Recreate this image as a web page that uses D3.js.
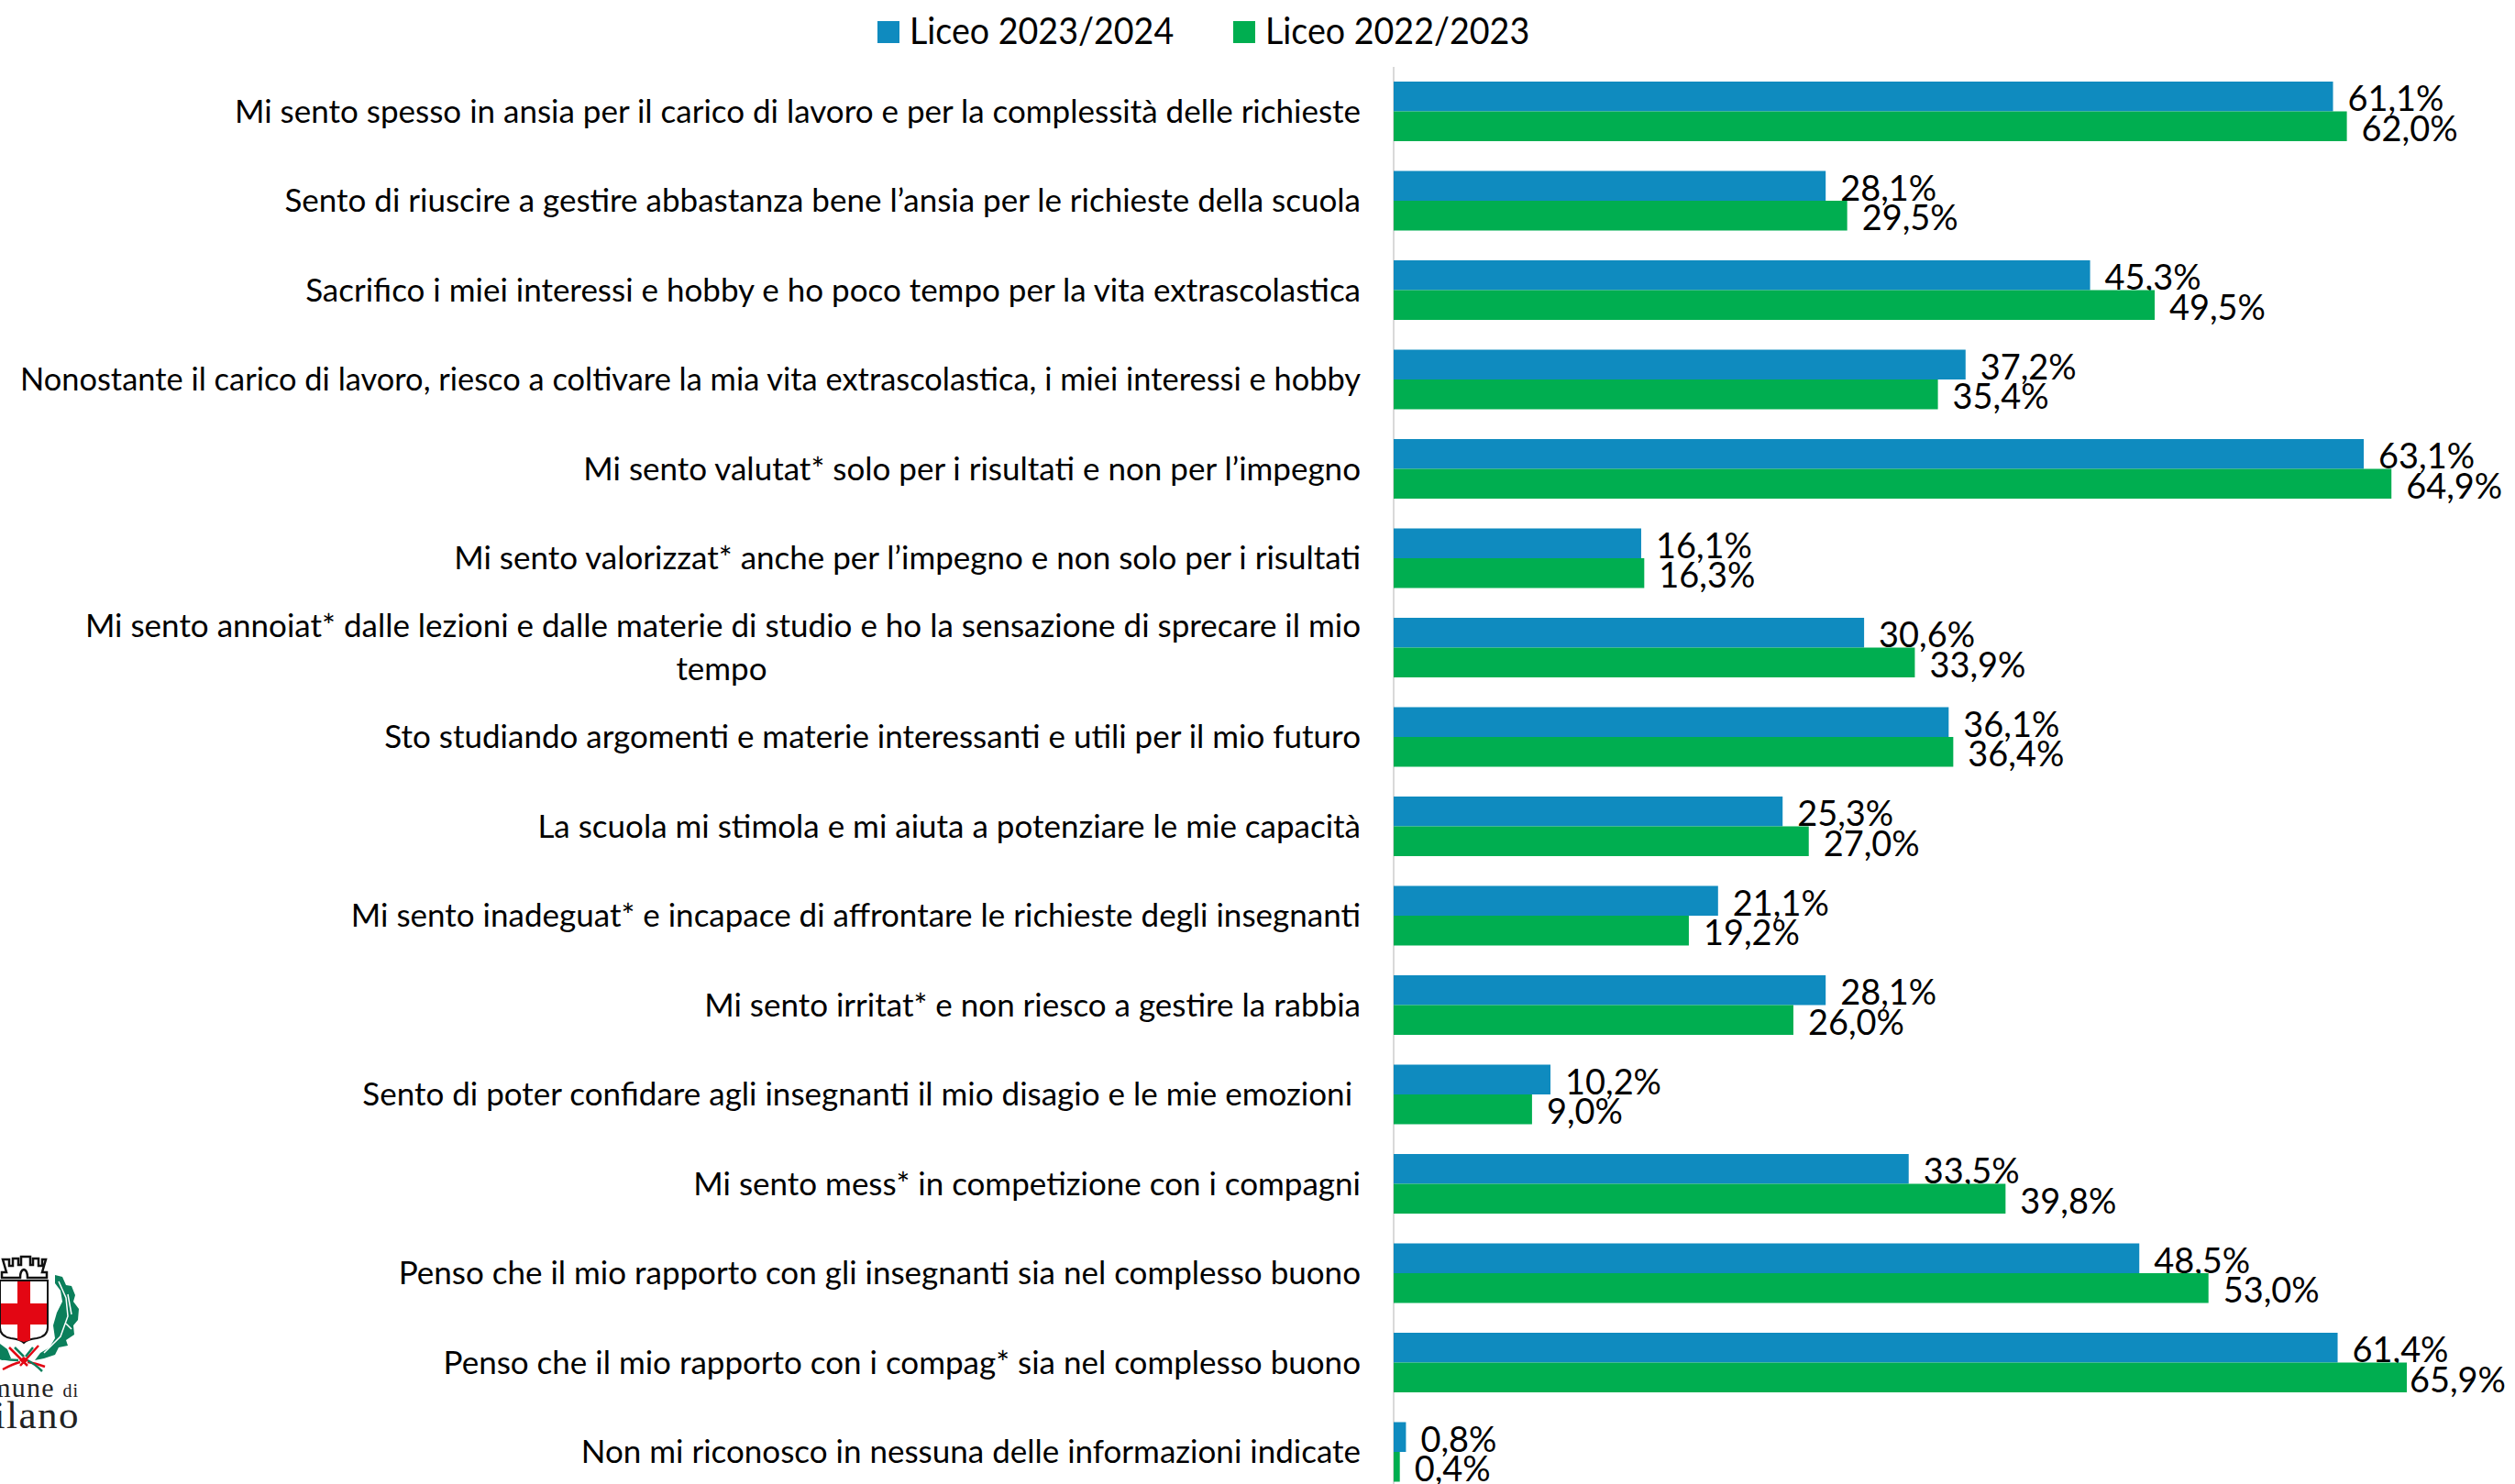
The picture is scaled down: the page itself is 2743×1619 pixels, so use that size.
<!DOCTYPE html>
<html><head><meta charset="utf-8">
<script src="https://cdn.jsdelivr.net/npm/d3@7/dist/d3.min.js"></script>
<style>html,body{margin:0;padding:0;background:#fff;overflow:hidden}svg{display:block}text{white-space:pre}</style>
</head><body><svg id="c" width="2743" height="1619"></svg>
<script>
const categories=[
["Mi sento spesso in ansia per il carico di lavoro e per la complessità delle richieste"],
["Sento di riuscire a gestire abbastanza bene l’ansia per le richieste della scuola"],
["Sacrifico i miei interessi e hobby e ho poco tempo per la vita extrascolastica"],
["Nonostante il carico di lavoro, riesco a coltivare la mia vita extrascolastica, i miei interessi e hobby"],
["Mi sento valutat* solo per i risultati e non per l’impegno"],
["Mi sento valorizzat* anche per l’impegno e non solo per i risultati"],
["Mi sento annoiat* dalle lezioni e dalle materie di studio e ho la sensazione di sprecare il mio","tempo"],
["Sto studiando argomenti e materie interessanti e utili per il mio futuro"],
["La scuola mi stimola e mi aiuta a potenziare le mie capacità"],
["Mi sento inadeguat* e incapace di affrontare le richieste degli insegnanti"],
["Mi sento irritat* e non riesco a gestire la rabbia"],
["Sento di poter confidare agli insegnanti il mio disagio e le mie emozioni "],
["Mi sento mess* in competizione con i compagni"],
["Penso che il mio rapporto con gli insegnanti sia nel complesso buono"],
["Penso che il mio rapporto con i compag* sia nel complesso buono"],
["Non mi riconosco in nessuna delle informazioni indicate"]];
const liceo2324=[61.1,28.1,45.3,37.2,63.1,16.1,30.6,36.1,25.3,21.1,28.1,10.2,33.5,48.5,61.4,0.8];
const liceo2223=[62.0,29.5,49.5,35.4,64.9,16.3,33.9,36.4,27.0,19.2,26.0,9.0,39.8,53.0,65.9,0.4];
const seriesNames=["Liceo 2023/2024","Liceo 2022/2023"];
const colors=["#0F8BBF","#00AE50"];

const svg=d3.select("#c");
const font="Lato, Carlito, sans-serif";
const x=d3.scaleLinear().domain([0,65.9]).range([1520,2625]);
const step=97.5, barH=32.5;
const y=d3.scaleLinear().domain([0,categories.length]).range([89,89+step*categories.length]);
const fmt=v=>v.toFixed(1).replace(".",",")+"%";
function condense(sel,k){
  sel.each(function(){
    const w=this.getComputedTextLength();
    d3.select(this).attr("textLength",w*k).attr("lengthAdjust","spacingAndGlyphs");
  });
}
const labelRightLimit=2733;

svg.append("line").attr("x1",1520).attr("x2",1520).attr("y1",73).attr("y2",1619).attr("stroke","#D9D9D9").attr("stroke-width",2);

[liceo2324,liceo2223].forEach((vals,s)=>{
  svg.append("g").selectAll("rect").data(vals).join("rect")
    .attr("x",x(0)).attr("y",(d,i)=>y(i)+s*barH)
    .attr("width",d=>x(d)-x(0)).attr("height",barH).attr("fill",colors[s]);
  svg.append("g").selectAll("text").data(vals).join("text")
    .attr("x",d=>x(d)+16).attr("y",(d,i)=>y(i)+s*barH+barH/2+16)
    .attr("font-family",font).attr("font-size",39.5).attr("fill","#000").text(fmt)
    .call(condense,0.96)
    .each(function(d){
      const w=+this.getAttribute("textLength");
      if(x(d)+16+w>labelRightLimit) this.setAttribute("x",labelRightLimit-w);
    });
});

const lab=svg.append("g").attr("font-family",font).attr("font-size",35).attr("fill","#000");
const maxLabelWidth=1462;
categories.forEach((lines,i)=>{
  const cy=y(i)+barH;
  if(lines.length===1){
    const t=lab.append("text").attr("x",1484).attr("y",cy+12).attr("text-anchor","end").text(lines[0]);
    if(t.node().getComputedTextLength()>maxLabelWidth) t.attr("textLength",maxLabelWidth).attr("lengthAdjust","spacingAndGlyphs");
  }else{
    lab.append("text").attr("x",1484).attr("y",cy-12).attr("text-anchor","end").text(lines[0]);
    lab.append("text").attr("x",787).attr("y",cy+35).attr("text-anchor","middle").text(lines[1]);
  }
});

const legendX=[957,1345];
seriesNames.forEach((n,i)=>{
  svg.append("rect").attr("x",legendX[i]).attr("y",23).attr("width",24).attr("height",24).attr("fill",colors[i]);
  svg.append("text").attr("x",legendX[i]+35).attr("y",48).attr("font-family",font).attr("font-size",40).attr("fill","#000").text(n)
    .call(condense,0.94);
});

// logo
const logo=svg.append("g");
logo.append("path").attr("d","M0 1397H52V1448Q52 1458 40 1460Q30 1461 26 1465Q22 1461 12 1460Q0 1458 0 1448Z")
  .attr("fill","#fff").attr("stroke","#111").attr("stroke-width",2);
logo.append("path").attr("d","M19 1398H33V1422H51V1445H33V1462L26 1464L19 1462V1445H1V1422H19Z").attr("fill","#E30613");
logo.append("path").attr("d","M3 1374H10V1381H14V1373H20V1380H23V1371H33V1380H36V1373H42V1381H46V1374H50L46 1388H51V1394H30Q30 1386 26 1385Q22 1386 22 1394H2V1388H7Z")
  .attr("fill","none").attr("stroke","#111").attr("stroke-width",2.5);
logo.append("path").attr("d","M60 1391L68 1393L72 1402L78 1403L82 1413L80 1420L86 1428L85 1440L80 1446L81 1456L72 1462L74 1468L64 1470L60 1478L48 1482L38 1484L44 1476L54 1470L60 1460L58 1446L62 1432L68 1420L66 1408L60 1400Z").attr("fill","#0B7F5B");
logo.append("path").attr("d","M64 1398L72 1416L74 1436L66 1458L48 1476M74 1412L78 1434M72 1444L78 1450").attr("fill","none").attr("stroke","#fff").attr("stroke-width",1.5);
logo.append("path").attr("d","M0 1466L8 1472L12 1482L2 1484L0 1482Z").attr("fill","#0B7F5B");
logo.append("path").attr("d","M10 1470L30 1490M42 1468L22 1490M3 1494Q14 1488 22 1486M49 1491Q38 1487 30 1486").attr("fill","none").attr("stroke","#E30613").attr("stroke-width",2.5);
logo.append("path").attr("d","M0 1482Q12 1484 20 1484M46 1496Q38 1488 30 1484M16 1470L26 1480M36 1470L28 1480").attr("fill","none").attr("stroke","#0B7F5B").attr("stroke-width",2.5);
logo.append("path").attr("d","M26 1480L31 1484L26 1488L21 1484Z").attr("fill","#E30613");
const t1=logo.append("text").attr("x",86).attr("y",1524).attr("text-anchor","end").attr("font-family","'Liberation Serif',serif").attr("fill","#222");
t1.append("tspan").attr("font-size",30).attr("letter-spacing",1.2).text("Comune ");
t1.append("tspan").attr("font-size",20).attr("letter-spacing",1).text("di");
logo.append("text").attr("x",87).attr("y",1558).attr("text-anchor","end").attr("font-family","'Liberation Serif',serif").attr("font-size",43).attr("letter-spacing",1.5).attr("fill","#222").text("Milano");
</script></body></html>
